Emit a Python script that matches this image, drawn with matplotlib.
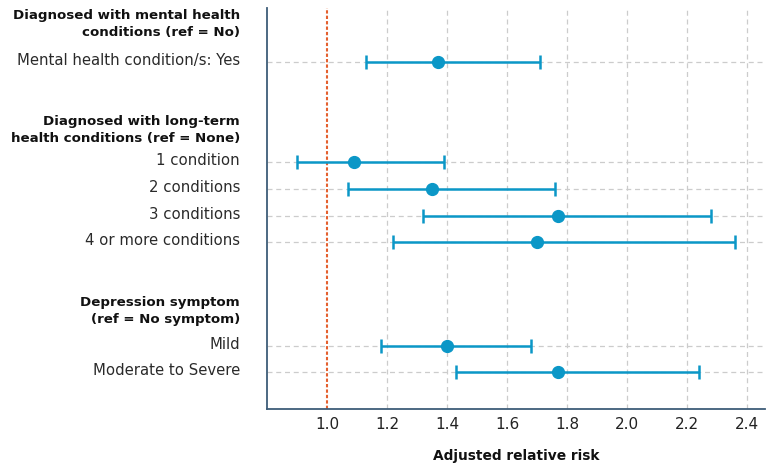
import numpy as np
import matplotlib
matplotlib.use("Agg")
import matplotlib.pyplot as plt

# data
headers = ["Diagnosed with mental health\nconditions (ref = No)",
           "Diagnosed with long-term\nhealth conditions (ref = None)",
           "Depression symptom\n(ref = No symptom)"]
labels = ["Mental health condition/s: Yes",
          "1 condition", "2 conditions", "3 conditions", "4 or more conditions",
          "Mild", "Moderate to Severe"]
rr = [1.37, 1.09, 1.35, 1.77, 1.70, 1.40, 1.77]
ci_low = [1.13, 0.90, 1.07, 1.32, 1.22, 1.18, 1.43]
ci_high = [1.71, 1.39, 1.76, 2.28, 2.36, 1.68, 2.24]
xticks = [1.0, 1.2, 1.4, 1.6, 1.8, 2.0, 2.2, 2.4]

# layout (rows top-down)
ypos = [2.03, 5.8, 6.82, 7.84, 8.83, 12.75, 13.74]
head_pos = [0.6, 4.6, 11.43]

blue = "#0b97c7"
orange = "#e4602f"
grid = "#cccccc"
spine = "#3e5d78"

plt.rcParams['font.family'] = ['DejaVu Sans']

fig = plt.figure(figsize=(7.73, 4.71), dpi=100)
ax = fig.add_axes([0.3454, 0.1316, 0.6446, 0.8514])

ax.set_xlim(0.8, 2.46)
ax.set_ylim(15.13, 0)

for x in xticks[1:]:
    ax.axvline(x, color=grid, lw=0.9, ls=(0, (4, 3)), zorder=0)
for y in ypos:
    ax.axhline(y, color=grid, lw=0.9, ls=(0, (4, 3)), zorder=0)
ax.axvline(1.0, color=orange, lw=1.5, ls=(0, (1.6, 1)), zorder=1)

rr = np.array(rr)
err = [rr - np.array(ci_low), np.array(ci_high) - rr]
ax.errorbar(rr, ypos, xerr=err, fmt='o', color=blue, ms=8.5,
            elinewidth=1.8, capsize=5, capthick=1.8, zorder=3)

ax.set_xticks(xticks)
ax.set_xticklabels([f"{t:.1f}" for t in xticks], fontsize=11, color="#222222")
ax.tick_params(axis='x', length=0, pad=6)
ax.set_yticks([])

for s in ['top', 'right']:
    ax.spines[s].set_visible(False)
for s in ['left', 'bottom']:
    ax.spines[s].set_color(spine)
    ax.spines[s].set_linewidth(1.3)

tx = -0.054
for lab, y in zip(labels, ypos):
    ax.text(tx, y - 0.06, lab, transform=ax.get_yaxis_transform(), ha='right',
            va='center', fontsize=10.7, color="#2a2a2a")
for h, y in zip(headers, head_pos):
    ax.text(tx, y, h, transform=ax.get_yaxis_transform(), ha='right',
            va='center', fontsize=9.6, fontweight='bold', color="#111111",
            linespacing=1.32)

ax.set_xlabel("Adjusted relative risk", fontsize=9.9, fontweight='bold',
              color="#111111", labelpad=12)

fig.savefig("out.png", dpi=100)
